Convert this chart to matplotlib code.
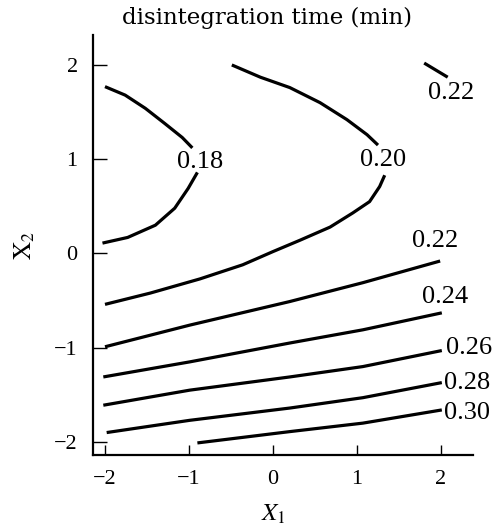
import numpy as np
import matplotlib
matplotlib.use('Agg')
import matplotlib.pyplot as plt

plt.rcParams['font.family'] = ['Liberation Serif', 'DejaVu Serif']
plt.rcParams['mathtext.fontset'] = 'stix'

# contour lines (X1, X2), split where the labels sit
c018_a_x = [-2.0, -1.76, -1.52, -1.29, -1.08, -0.96]
c018_a_y = [1.77, 1.68, 1.54, 1.38, 1.23, 1.12]
c018_b_x = [-0.90, -1.01, -1.17, -1.40, -1.73, -2.03]
c018_b_y = [0.86, 0.69, 0.48, 0.30, 0.17, 0.11]

c020_a_x = [-0.49, -0.15, 0.20, 0.56, 0.88, 1.12, 1.25]
c020_a_y = [2.00, 1.87, 1.76, 1.60, 1.42, 1.26, 1.15]
c020_b_x = [1.33, 1.27, 1.15, 0.95, 0.68, 0.32, 0.0, -0.36, -0.87, -1.46, -2.0]
c020_b_y = [0.83, 0.71, 0.55, 0.43, 0.28, 0.14, 0.02, -0.12, -0.27, -0.42, -0.54]

c022_top_x = [1.80, 2.08]
c022_top_y = [2.02, 1.87]
c022_x = [-2.0, -0.99, 0.20, 1.07, 1.99]
c022_y = [-0.99, -0.76, -0.51, -0.31, -0.08]

c024_x = [-2.02, -0.99, 0.20, 1.07, 2.01]
c024_y = [-1.31, -1.15, -0.95, -0.81, -0.63]
c026_x = [-2.02, -0.99, 0.20, 1.07, 2.01]
c026_y = [-1.61, -1.45, -1.31, -1.20, -1.03]
c028_x = [-1.98, -0.99, 0.20, 1.07, 2.01]
c028_y = [-1.90, -1.77, -1.64, -1.53, -1.37]
c030_x = [-0.90, 0.20, 1.07, 2.01]
c030_y = [-2.01, -1.89, -1.80, -1.66]

lines = [(c018_a_x, c018_a_y), (c018_b_x, c018_b_y),
         (c020_a_x, c020_a_y), (c020_b_x, c020_b_y),
         (c022_top_x, c022_top_y), (c022_x, c022_y),
         (c024_x, c024_y), (c026_x, c026_y),
         (c028_x, c028_y), (c030_x, c030_y)]

# contour labels
lab_text = ['0.18', '0.20', '0.22', '0.22', '0.24', '0.26', '0.28', '0.30']
lab_x = [-0.87, 1.31, 2.12, 1.93, 2.05, 2.33, 2.31, 2.31]
lab_y = [0.97, 0.99, 1.70, 0.13, -0.46, -1.00, -1.37, -1.69]

ticks = [-2, -1, 0, 1, 2]

fig = plt.figure(figsize=(4.93, 5.26), dpi=100)
ax = fig.add_axes([0.1886, 0.135, 0.9594 - 0.1886, 0.9335 - 0.135])

for xs, ys in lines:
    ax.plot(xs, ys, color='k', lw=2.3, solid_capstyle='butt',
            solid_joinstyle='round')

for t, x, y in zip(lab_text, lab_x, lab_y):
    ax.text(x, y, t, fontsize=19, ha='center', va='center', clip_on=False)

ax.set_xlim(-2.143, 2.381)
ax.set_ylim(-2.138, 2.318)
ax.set_xticks(ticks)
ax.set_yticks(ticks)
ax.spines['top'].set_visible(False)
ax.spines['right'].set_visible(False)
ax.spines['left'].set_linewidth(1.6)
ax.spines['bottom'].set_linewidth(1.6)
ax.tick_params(axis='x', direction='in', length=7, width=1, pad=11, labelsize=16)
ax.tick_params(axis='y', direction='in', length=10, width=1, pad=11, labelsize=16)

fig.text(267 / 493, 1 - 18 / 526, 'disintegration time (min)', fontsize=16.5,
         family='DejaVu Serif', ha='center', va='center')
fig.text(273 / 493, 1 - 514 / 526, r'$X_1$', fontsize=18, ha='center', va='center')
fig.text(25 / 493, 1 - 246 / 526, r'$\mathrm{X}_2$', fontsize=18, ha='center',
         va='center', rotation=90)

fig.savefig('out.png', dpi=100)
